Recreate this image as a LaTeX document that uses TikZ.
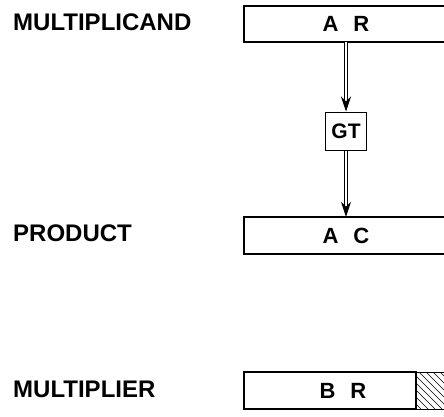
\documentclass[tikz,border=0pt]{standalone}
\usepackage{fontspec}
\setmainfont{Liberation Sans}
\usetikzlibrary{arrows.meta}
\tikzset{
	lbl/.style    ={anchor=west, inner sep=0pt, font=\fontsize{24}{26}\selectfont\bfseries},
	regtxt/.style ={inner sep=0pt, minimum width=60pt, font=\fontsize{22}{24}\selectfont\bfseries},
	regbox/.style ={draw=black, line width=1.3pt},
	gate/.style   ={rectangle, draw=black, line width=1pt, minimum width=41pt, minimum height=38pt, inner sep=0pt, font=\fontsize{21}{23}\selectfont\bfseries},
	xfer/.style   ={double, double distance=2.4pt, line width=0.9pt, -{Stealth[length=15pt, width=10pt]}},
	hatch/.style  ={line width=0.7pt},
}
\newcommand{\gap}{\hspace{15pt}}
\begin{document}
\begin{tikzpicture}[x=1pt, y=-1pt]
	\useasboundingbox (0,0) rectangle (444,416);
	\clip (0,0) rectangle (444,416);
	% labels
	\node[lbl] (mcand) at (13,22) {MULTIPLICAND};
	\node[lbl] (prod) at (13,233) {PRODUCT};
	\node[lbl] (mplier) at (13,389) {MULTIPLIER};
	% registers
	\draw[regbox] (244,6) rectangle (460,42);
	\node[regtxt, minimum height=36pt] (ar) at (346,24) {A\gap R};
	\node[gate] (gt) at (346,131) {GT};
	\draw[regbox] (244,217) rectangle (460,254);
	\node[regtxt, minimum height=37pt] (ac) at (346,235.5) {A\gap C};
	\draw[regbox] (244,372) rectangle (416,409);
	\node[regtxt, minimum height=37pt] (br) at (343,390.5) {B\gap R};
	% shaded end of multiplier
	\begin{scope}
		\clip (416,372) rectangle (450,409);
		\foreach \i in {0,7,...,70}
			\draw[hatch] (370+\i,372) -- ++(37,37);
	\end{scope}
	\draw[hatch] (460,372) -- (416,372) -- (416,409) -- (460,409);
	% transfer
	\draw[xfer] (ar) -- (gt);
	\draw[xfer] (gt) -- (ac);
\end{tikzpicture}
\end{document}
